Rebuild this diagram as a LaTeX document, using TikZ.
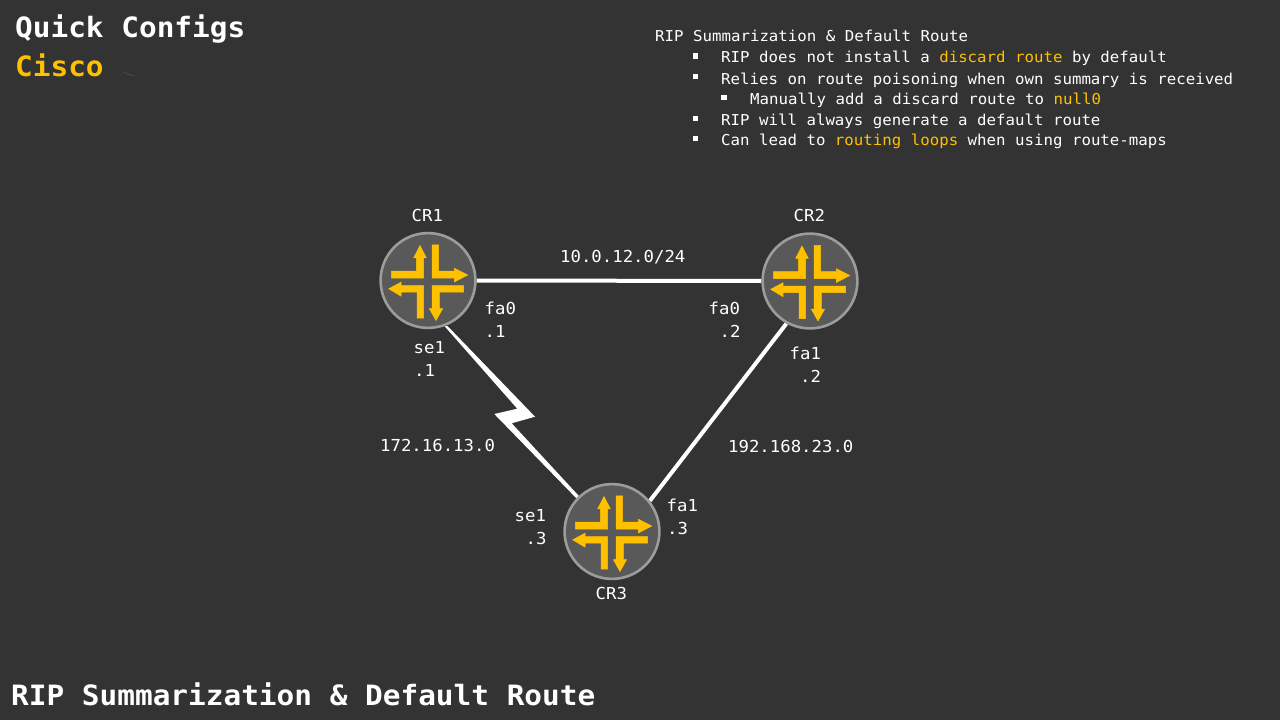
\documentclass[tikz,border=0pt]{standalone}
\usepackage{fontspec}
\setmainfont[FakeStretch=1.05]{DejaVu Sans Mono}
\definecolor{bg}{HTML}{333333}
\definecolor{amber}{HTML}{FFC000}
\definecolor{disc}{HTML}{595959}
\definecolor{ring}{HTML}{9C9C9C}
\definecolor{wisp}{HTML}{4A4A3A}
\newcommand{\hl}[1]{\textcolor{amber}{#1}}
\pgfdeclarelayer{backdrop}
\pgfdeclarelayer{links}
\pgfsetlayers{backdrop,links,main}
\tikzset{
  x=1pt,y=-1pt,
  router/.style={circle,draw=ring,line width=2.6pt,fill=disc,minimum size=94.8pt,inner sep=0pt},
  lbl/.style={anchor=base west,inner sep=0pt,text=white,font=\fontsize{16.5pt}{18pt}\selectfont},
  body/.style={anchor=base west,inner sep=0pt,text=white,font=\fontsize{15pt}{17pt}\selectfont},
  headline/.style={anchor=base west,inner sep=0pt,text=white,font=\fontsize{28pt}{30pt}\selectfont\bfseries},
  bulletmark/.style={fill=white,draw=none},
  link/.style={draw=white,line width=4pt},
  icon/.style={fill=amber,draw=amber,line width=0.5pt,line join=round},
  pics/junos/.style={code={
    \path[icon] (-36.7,-9.3)--(-11.7,-9.3)--(-11.7,-22.7)--(-14.3,-22.7)--(-8,-35)--(-1.7,-22.7)--(-4.3,-22.7)--(-4.3,-2.5)--(-36.7,-2.5)--cycle;
    \path[icon] (4,-35.7)--(10.7,-35.7)--(10.7,-9.3)--(26.3,-9.3)--(26.3,-12.3)--(39.7,-5.5)--(26.3,1.5)--(26.3,-2.5)--(4,-2.5)--cycle;
    \path[icon] (-39.3,8.3)--(-27,1.7)--(-27,5)--(-4.3,5)--(-4.3,37.7)--(-11,37.7)--(-11,11.7)--(-27,11.7)--(-27,15.7)--cycle;
    \path[icon] (35.7,5)--(35.7,11.7)--(11.3,11.7)--(11.3,28)--(14.7,28)--(8,40)--(1.3,28)--(4,28)--(4,5)--cycle;
  }}
}
\begin{document}
\begin{tikzpicture}
\useasboundingbox (0,0) rectangle (1280,720);
\begin{pgfonlayer}{backdrop}
\fill[bg] (0,0) rectangle (1280,720);
\end{pgfonlayer}

\node[router] (CR1) at (428,280.5) {};
\node[router] (CR2) at (810,281) {};
\node[router] (CR3) at (612,531.5) {};
\pic at (CR1) {junos};
\pic at (CR2) {junos};
\pic at (CR3) {junos};

\begin{pgfonlayer}{links}
\draw[link] (CR1) -- (CR2);
\draw[link] (CR2.-119) -- (CR3.39);
\fill[white] (CR1.-70) -- (447.5,326) -- (535,416.7) -- (511.7,423.3) -- (CR3.133) -- (CR3.137)
  -- (494.3,414) -- (517.3,408.7) -- cycle;
\end{pgfonlayer}

% titles
\node[headline] (t1) at (15,37) {Quick Configs};
\node[headline,text=amber] (t2) at (15,76) {Cisco};
\node[headline] (t3) at (11,705) {RIP Summarization \& Default Route};
\draw[wisp,line width=1pt] (124,72) .. controls (128,75) and (131,75.5) .. (135,75.5);

% notes
\node[body] (n0) at (655,41.7) {RIP Summarization \& Default Route};
\node[body] (n1) at (721,62.7) {RIP does not install a \hl{discard route} by default};
\node[body] (n2) at (721,84) {Relies on route poisoning when own summary is received};
\node[body] (n3) at (750,104.3) {Manually add a discard route to \hl{null0}};
\node[body] (n4) at (721,125.3) {RIP will always generate a default route};
\node[body] (n5) at (721,145.7) {Can lead to \hl{routing loops} when using route-maps};
\fill[bulletmark] (692.5,53.2) rectangle (698,58.7);
\fill[bulletmark] (692.5,73.7) rectangle (698,79.2);
\fill[bulletmark] (721,94.7) rectangle (726.5,100.2);
\fill[bulletmark] (692.5,115.7) rectangle (698,121.2);
\fill[bulletmark] (692.5,135.7) rectangle (698,141.2);

% labels
\node[lbl] (l1) at (411.5,221) {CR1};
\node[lbl] (l2) at (793.5,221) {CR2};
\node[lbl] (l3) at (595.5,599) {CR3};
\node[lbl] (l4) at (560,262) {10.0.12.0/24};
\node[lbl] (l5) at (484.5,314) {fa0};
\node[lbl] (l6) at (484.5,337) {.1};
\node[lbl] (l7) at (708.5,314) {fa0};
\node[lbl] (l8) at (719.5,337) {.2};
\node[lbl] (l9) at (789.5,359) {fa1};
\node[lbl] (l10) at (800,382) {.2};
\node[lbl] (l11) at (413.5,353) {se1};
\node[lbl] (l12) at (414,376) {.1};
\node[lbl] (l13) at (380,451) {172.16.13.0};
\node[lbl] (l14) at (728,452) {192.168.23.0};
\node[lbl] (l15) at (514.5,521) {se1};
\node[lbl] (l16) at (525.5,544) {.3};
\node[lbl] (l17) at (666.5,511) {fa1};
\node[lbl] (l18) at (667,534) {.3};
\end{tikzpicture}
\end{document}
